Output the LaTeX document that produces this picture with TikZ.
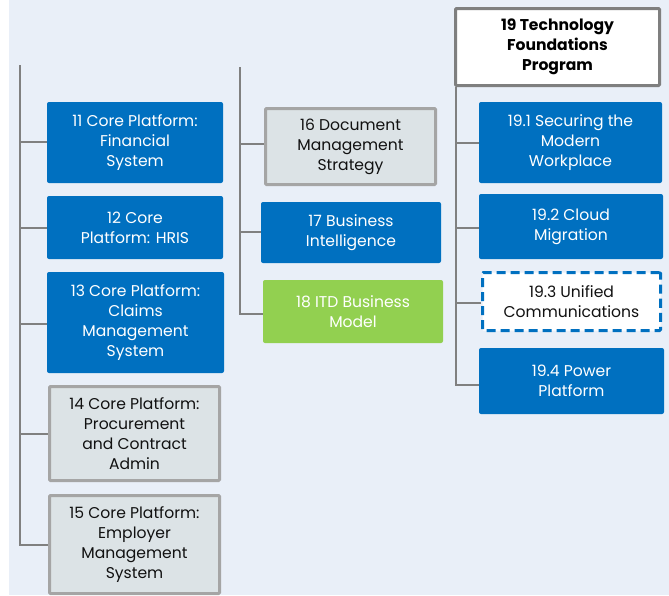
\documentclass[tikz,border=0pt]{standalone}
\usepackage{fontspec}
\setmainfont{Poppins}
\definecolor{bg}{HTML}{E9EFF8}
\definecolor{bluebox}{HTML}{0070C0}
\definecolor{greenbox}{HTML}{92D050}
\definecolor{graybox}{HTML}{DCE3E6}
\definecolor{grayline}{HTML}{A5A5A5}
\definecolor{darkline}{HTML}{7F7F7F}
\definecolor{conn}{HTML}{808080}
\definecolor{txt}{HTML}{111111}
\tikzset{
  base/.style={align=center, inner sep=0pt, font=\fontsize{15.6}{20}\selectfont},
  bluenode/.style={base, fill=bluebox, draw=none, rounded corners=2pt, text=white},
  greennode/.style={base, fill=greenbox, draw=none, rounded corners=2pt, text=white},
  graynode/.style={base, fill=graybox, draw=grayline, line width=3pt, rounded corners=1pt, text=txt},
  titlenode/.style={base, fill=white, draw=darkline, line width=3pt, rounded corners=1pt, text=black, font=\fontsize{15.6}{20}\selectfont\bfseries},
  dashnode/.style={base, fill=white, draw=bluebox, line width=3pt, dash pattern=on 9pt off 5pt, rounded corners=1pt, text=txt},
  connector/.style={draw=conn, line width=1.5pt},
}
\begin{document}
\begin{tikzpicture}[x=1pt, y=-1pt]
\useasboundingbox (0,0) rectangle (669,595);
\fill[bg] (9,0) rectangle (669,595);

% left column
\node[bluenode, minimum width=176pt, minimum height=81pt] (b11) at (135,142.5) {11 Core Platform:\\Financial\\System};
\node[bluenode, minimum width=176pt, minimum height=63pt] (b12) at (135,227.5) {12 Core\\Platform: HRIS};
\node[bluenode, minimum width=177pt, minimum height=101pt] (b13) at (135.5,322.5) {13 Core Platform:\\Claims\\Management\\System};
\node[graynode, minimum width=170pt, minimum height=94pt] (b14) at (134.5,433.5) {14 Core Platform:\\Procurement\\and Contract\\Admin};
\node[graynode, minimum width=170pt, minimum height=98pt] (b15) at (134.5,544.5) {15 Core Platform:\\Employer\\Management\\System};

% middle column
\node[graynode, minimum width=170pt, minimum height=76pt] (b16) at (350.5,146.5) {16 Document\\Management\\Strategy};
\node[bluenode, minimum width=180pt, minimum height=61pt] (b17) at (351,232.5) {17 Business\\Intelligence};
\node[greennode, minimum width=180pt, minimum height=63pt] (b18) at (353,311.5) {18 ITD Business\\Model};

% right column
\node[titlenode, minimum width=204pt, minimum height=77pt] (b19) at (557.5,47) {19 Technology\\Foundations\\Program};
\node[bluenode, minimum width=183pt, minimum height=81pt] (b191) at (570.5,142.5) {19.1 Securing the\\Modern\\Workplace};
\node[bluenode, minimum width=184pt, minimum height=65pt] (b192) at (571,226.5) {19.2 Cloud\\Migration};
\node[dashnode, minimum width=178pt, minimum height=58pt] (b193) at (571.5,301.5) {19.3 Unified\\Communications};
\node[bluenode, minimum width=185pt, minimum height=66pt] (b194) at (571.5,381) {19.4 Power\\Platform};

% trunk coordinates
\coordinate (lt) at (20,65);
\coordinate (l11) at (20,142);
\coordinate (l12) at (20,228);
\coordinate (l13) at (20,324);
\coordinate (l14) at (20,434);
\coordinate (l15) at (20,545);
\coordinate (mt) at (240,67);
\coordinate (m16) at (240,144);
\coordinate (m17) at (240,232);
\coordinate (m18) at (240,314);
\coordinate (r191) at (456,143);
\coordinate (r192) at (456,228);
\coordinate (r193) at (456,303);
\coordinate (r194) at (456,385);

\draw[connector] (lt) -- (l15) -- (l15 -| b15.west);
\draw[connector] (l11) -- (l11 -| b11.west);
\draw[connector] (l12) -- (l12 -| b12.west);
\draw[connector] (l13) -- (l13 -| b13.west);
\draw[connector] (l14) -- (l14 -| b14.west);

\draw[connector] (mt) -- (m18) -- (m18 -| b18.west);
\draw[connector] (m16) -- (m16 -| b16.west);
\draw[connector] (m17) -- (m17 -| b17.west);

\draw[connector] (b19.south -| r194) -- (r194) -- (r194 -| b194.west);
\draw[connector] (r191) -- (r191 -| b191.west);
\draw[connector] (r192) -- (r192 -| b192.west);
\draw[connector] (r193) -- (r193 -| b193.west);
\end{tikzpicture}
\end{document}
